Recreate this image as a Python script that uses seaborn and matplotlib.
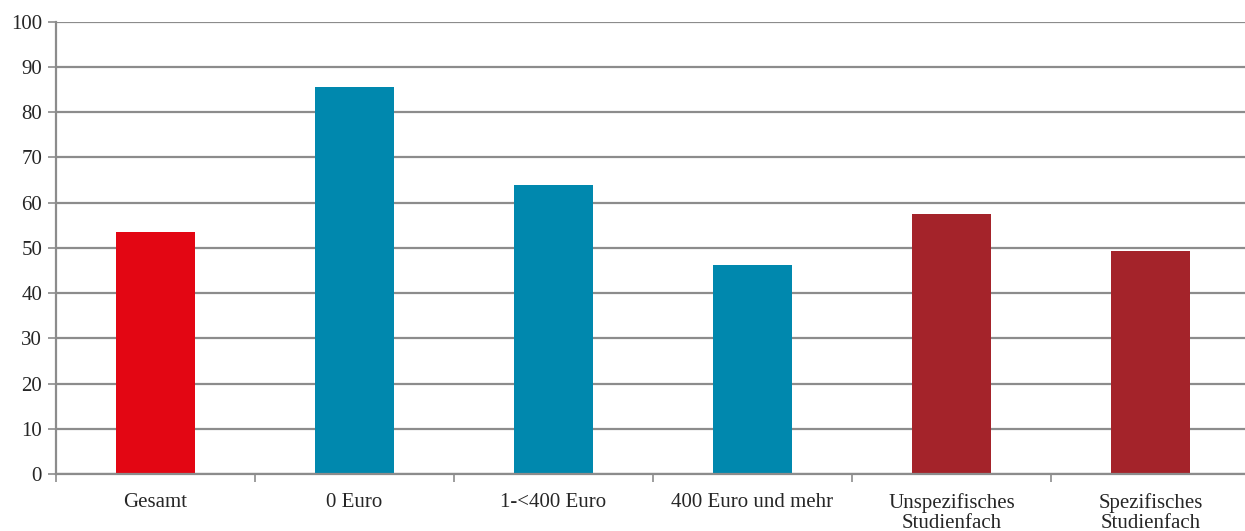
import numpy as np
import matplotlib.pyplot as plt
import seaborn as sns
import pandas as pd

# values
categories = ['Gesamt', '0 Euro', '1-<400 Euro', '400 Euro und mehr',
              'Unspezifisches\nStudienfach', 'Spezifisches\nStudienfach']
values = [53.5, 85.5, 63.9, 46.2, 57.4, 49.3]
colors = ['#E30613', '#0088AE', '#0088AE', '#0088AE', '#A4232A', '#A4232A']

sns.set_style("white")
plt.rcParams['font.family'] = ['Liberation Serif', 'DejaVu Serif']

df = pd.DataFrame({'Kategorie': categories, 'Wert': values})

fig = plt.figure(figsize=(12.45, 5.31), dpi=100)
ax = fig.add_axes([56 / 1245, 1 - 474 / 531, 1194 / 1245, (474 - 21.7) / 531])
sns.barplot(data=df, x='Kategorie', y='Wert', hue='Kategorie',
            palette=colors, width=0.4, saturation=1, legend=False,
            linewidth=0, ax=ax)

grid_col = '#8C8C8C'
ax.set_ylim(0, 100)
ax.set_xlim(-0.5, 5.5)
ax.set_yticks(np.arange(0, 101, 10))
ax.yaxis.grid(True, color=grid_col, linewidth=1.6)
ax.set_axisbelow(True)
ax.set_xlabel('')
ax.set_ylabel('')
for s in ['top', 'right']:
    ax.spines[s].set_visible(False)
for s in ['left', 'bottom']:
    ax.spines[s].set_color(grid_col)
    ax.spines[s].set_linewidth(1.6)

ax.tick_params(axis='y', length=6, width=1.2, color=grid_col, labelsize=15,
               pad=4, left=True)
ax.tick_params(axis='x', which='major', length=0, labelsize=15, pad=14)
ax.set_xticks(np.arange(-0.5, 5.6, 1), minor=True)
ax.tick_params(axis='x', which='minor', length=6, width=1.2, color=grid_col,
               bottom=True)
for lbl in ax.get_xticklabels():
    lbl.set_linespacing(1.05)

fig.savefig('out.png', dpi=100)
